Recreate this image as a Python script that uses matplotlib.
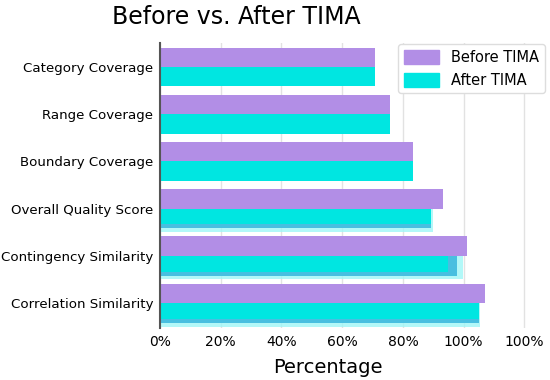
import numpy as np
import matplotlib
matplotlib.use("Agg")
from matplotlib import pyplot as plt
from matplotlib.patches import Patch

# data
categories = ["Category Coverage", "Range Coverage", "Boundary Coverage",
              "Overall Quality Score", "Contingency Similarity", "Correlation Similarity"]
before = [0.708, 0.758, 0.834, 0.931, 1.011, 1.071]
after = [0.708, 0.758, 0.834, 0.893, 0.948, 1.052]
# faint extra layers visible behind the lower "after" bars
after_shadow = [0, 0, 0, 0.893, 0.979, 1.052]
after_glow = [0, 0, 0, 0.900, 0.999, 1.055]
xticks = [0, 0.2, 0.4, 0.6, 0.8, 1.0, 1.2]
xticklabels = ["0%", "20%", "40%", "60%", "80%", "100%", "100%"]

purple = "#b28ee6"
cyan = "#00e6e1"

fig = plt.figure(figsize=(5.5, 3.8), dpi=100)
ax = fig.add_axes([160 / 550, 52 / 380, 388 / 550, 285 / 380])

y = np.arange(len(categories))
h = 0.41

# purple bars sit above the category line
ax.barh(y - h, before, height=h, align="edge", color=purple, zorder=3)

# lower bars: glow + shadow + cyan on top
ax.barh(y, after_glow, height=0.50, align="edge", color="#9ff7f7", alpha=0.8, zorder=2)
ax.barh(y, after_shadow, height=0.42, align="edge", color="#48bfe0", zorder=2.5)
heights = [h if s == 0 else 0.335 for s in after_shadow]
ax.barh(y, after, height=heights, align="edge", color=cyan, zorder=3)

ax.set_yticks(y)
ax.set_yticklabels(categories, fontsize=9.6)
ax.set_ylim(len(y) - 0.47, -0.51)
ax.set_xlim(0, 1.278)
ax.set_xticks(xticks)
ax.set_xticklabels(xticklabels, fontsize=10)
ax.tick_params(length=0, pad=5)
ax.tick_params(axis="y", pad=5)

ax.grid(True, axis="x", color="#e2e2e2", linewidth=1, zorder=0)
for s in ["top", "right", "bottom"]:
    ax.spines[s].set_visible(False)
ax.spines["left"].set_color("#555555")
ax.spines["left"].set_linewidth(1.5)
ax.spines["left"].set_zorder(5)

ax.set_xlabel("Percentage", fontsize=14)
ax.xaxis.set_label_coords(168 / 388, -0.105)

handles = [Patch(color=purple), Patch(color=cyan)]
leg = ax.legend(handles, ["Before TIMA", "After TIMA"], loc="upper right",
                fontsize=10.5, handlelength=2.4, handleheight=1.1,
                borderaxespad=0.1, bbox_to_anchor=(0.995, 1.0),
                framealpha=1, edgecolor="#dddddd")

fig.text(236 / 550, 1 - 17 / 380, "Before vs. After TIMA", fontsize=17,
         ha="center", va="center")

fig.savefig("out.png", dpi=100)
